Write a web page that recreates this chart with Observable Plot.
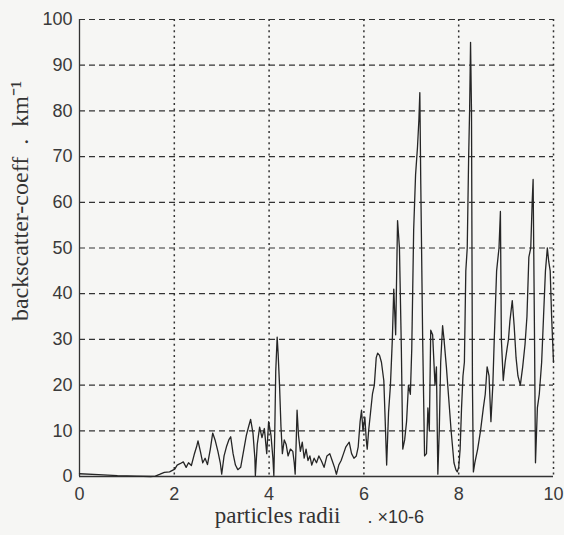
<!DOCTYPE html>
<html><head><meta charset="utf-8">
<script src="https://cdn.jsdelivr.net/npm/d3@7"></script>
<script src="https://cdn.jsdelivr.net/npm/@observablehq/plot@0.6"></script>
<style>body{margin:0;background:#f6f6f4;}</style>
</head><body><div id="chart"></div>
<script>
// particle radius (x10-6)
const radii = [
  0, 0.4, 0.8, 1.2, 1.5, 1.6, 1.7, 1.79, 1.9, 2.01,
  2.06, 2.12, 2.19, 2.25, 2.3, 2.36, 2.42, 2.47, 2.5, 2.55, 2.6, 2.65, 2.7, 2.76, 2.81, 2.86, 2.92, 2.97,
  3.0, 3.05, 3.1, 3.15, 3.19, 3.24, 3.29, 3.34, 3.4, 3.46, 3.52, 3.57, 3.61, 3.66, 3.7, 3.71, 3.75, 3.8, 3.85, 3.9, 3.95, 3.99,
  4.04, 4.08, 4.1, 4.12, 4.14, 4.17, 4.19, 4.22, 4.25, 4.28, 4.32, 4.36, 4.4, 4.45, 4.5, 4.53, 4.55, 4.57, 4.59, 4.62, 4.66, 4.7, 4.74, 4.78, 4.82, 4.86, 4.9, 4.95,
  5.0, 5.05, 5.1, 5.16, 5.22, 5.28, 5.33, 5.38, 5.42, 5.47, 5.52, 5.57, 5.62, 5.69, 5.74, 5.79, 5.84, 5.88, 5.92, 5.95, 5.98,
  6.02, 6.05, 6.07, 6.1, 6.14, 6.18, 6.22, 6.26, 6.29, 6.33, 6.37, 6.42, 6.45, 6.48, 6.52, 6.56, 6.6, 6.63, 6.67, 6.71, 6.75, 6.79, 6.82, 6.86, 6.9, 6.94, 6.98,
  7.01, 7.05, 7.09, 7.13, 7.16, 7.18, 7.2, 7.24, 7.28, 7.32, 7.35, 7.38, 7.41, 7.45, 7.5, 7.53, 7.56, 7.59, 7.62, 7.66, 7.69, 7.74, 7.79, 7.84, 7.9, 7.94, 7.97,
  8.0, 8.03, 8.06, 8.09, 8.12, 8.15, 8.18, 8.21, 8.23, 8.25, 8.27, 8.29, 8.31, 8.34, 8.4, 8.46, 8.52, 8.56, 8.6, 8.64, 8.68, 8.72, 8.75, 8.8, 8.85, 8.88, 8.9, 8.94, 8.98,
  9.02, 9.05, 9.08, 9.13, 9.17, 9.21, 9.25, 9.3, 9.35, 9.4, 9.44, 9.48, 9.52, 9.55, 9.57, 9.6, 9.62, 9.66, 9.7, 9.75, 9.79, 9.83, 9.87, 9.9, 9.93, 9.96, 10.0
];
// backscatter coefficient (km^-1)
const coeff = [
  0.6, 0.4, 0.2, 0.1, 0, 0.1, 0.5, 0.9, 1.0, 1.6,
  2.5, 2.8, 3.2, 2.0, 3.0, 2.4, 4.8, 6.5, 7.8, 5.5, 3.0, 4.0, 2.6, 6.0, 9.5, 8.0, 5.5, 3.0,
  0.5, 4.5, 6.5, 8.0, 8.7, 5.0, 2.5, 1.5, 2.0, 5.5, 9.0, 11.0, 12.5, 9.5, 4.0, 0.2, 7.0, 10.8, 8.5, 10.5, 5.0, 12.0,
  9.0, 4.0, 0.2, 10.0, 23.0, 30.5, 27.0, 20.0, 11.0, 5.0, 8.0, 7.0, 4.5, 6.0, 5.5, 3.0, 0.5, 7.0, 14.5, 9.0, 5.5, 7.5, 4.0, 6.0, 3.5, 4.5, 2.5, 4.0,
  3.0, 4.5, 3.5, 2.0, 4.5, 5.0, 3.5, 2.0, 0.5, 2.5, 3.5, 5.0, 6.5, 7.5, 5.0, 4.0, 4.5, 6.5, 12.0, 14.5, 10.0,
  13.0, 8.0, 6.0, 10.0, 14.0, 18.0, 20.0, 26.0, 27.0, 26.5, 25.0, 21.0, 12.0, 2.5, 14.0, 20.0, 30.0, 41.0, 31.0, 56.0, 50.0, 28.0, 6.0, 8.0, 12.0, 20.0, 18.0,
  28.0, 54.0, 66.0, 72.0, 78.0, 84.0, 64.0, 30.0, 4.5, 5.0, 15.0, 10.0, 32.0, 31.0, 20.0, 24.0, 0.5, 10.0, 25.0, 33.0, 30.0, 24.0, 17.0, 10.0, 3.0, 1.5, 1.0,
  2.0, 6.0, 15.0, 22.0, 25.0, 45.0, 50.0, 70.0, 80.0, 95.0, 80.0, 20.0, 1.0, 3.0, 6.0, 10.0, 15.0, 18.0, 24.0, 22.0, 12.0, 20.0, 30.0, 45.0, 50.0, 58.0, 30.0, 21.0, 25.0,
  28.0, 30.0, 34.0, 38.5, 33.0, 26.0, 22.0, 20.0, 24.0, 29.0, 35.0, 48.0, 50.0, 60.0, 65.0, 30.0, 3.0, 15.0, 18.0, 25.0, 35.0, 45.0, 50.0, 47.0, 45.0, 35.0, 25.0
];
const xTicks = [0, 2, 4, 6, 8, 10];
const yTicks = [0, 10, 20, 30, 40, 50, 60, 70, 80, 90, 100];
const xGrid = [2, 4, 6, 8, 10];
const yGrid = [10, 20, 30, 40, 50, 60, 70, 80, 90, 100];
const yLabel = "backscatter-coeff\u00a0\u00a0.\u00a0\u00a0km\u207B\u00B9";
const xLabel = "particles radii";
const xUnit = ".\u00a0\u00d710-6";

if (radii.length !== coeff.length) throw new Error("length mismatch " + radii.length + " " + coeff.length);
const data = radii.map((r, i) => ({r, c: coeff[i]}));

const serif = "'Liberation Serif', 'Times New Roman', serif";
const chart = Plot.plot({
  width: 564, height: 535,
  marginLeft: 79, marginRight: 11, marginTop: 19, marginBottom: 59,
  style: {background: "#f6f6f4", fontFamily: "'Liberation Sans', Arial, sans-serif", color: "#3a3a3a"},
  x: {domain: [0, 10]},
  y: {domain: [0, 100]},
  marks: [
    Plot.ruleY(yGrid, {stroke: "#333", strokeDasharray: "6,4", strokeWidth: 1.2}),
    Plot.ruleX(xGrid, {stroke: "#333", strokeDasharray: "2,3.6", strokeWidth: 1.5}),
    Plot.ruleX([0], {stroke: "#333", strokeWidth: 1.3}),
    Plot.ruleY([0], {stroke: "#333", strokeWidth: 1.3}),
    Plot.lineY(data, {x: "r", y: "c", stroke: "#262626", strokeWidth: 1.3}),
    Plot.axisX({ticks: xTicks, tickSize: 0, tickPadding: 11, fontSize: 18, label: null}),
    Plot.axisY({ticks: yTicks, tickSize: 0, tickPadding: 7, fontSize: 18, label: null}),
    Plot.text([yLabel], {frameAnchor: "left", textAnchor: "middle", dx: -59, dy: -47, rotate: -90, fontSize: 24, fontFamily: serif, fill: "#333"}),
    Plot.text([xLabel], {frameAnchor: "bottom-left", dx: 261, dy: 46, textAnchor: "end", fontSize: 23, fontFamily: serif, fill: "#333"}),
    Plot.text([xUnit], {frameAnchor: "bottom-left", dx: 288, dy: 46, textAnchor: "start", fontSize: 18, fill: "#333"})
  ]
});
document.getElementById("chart").appendChild(chart);
</script>
</body></html>
